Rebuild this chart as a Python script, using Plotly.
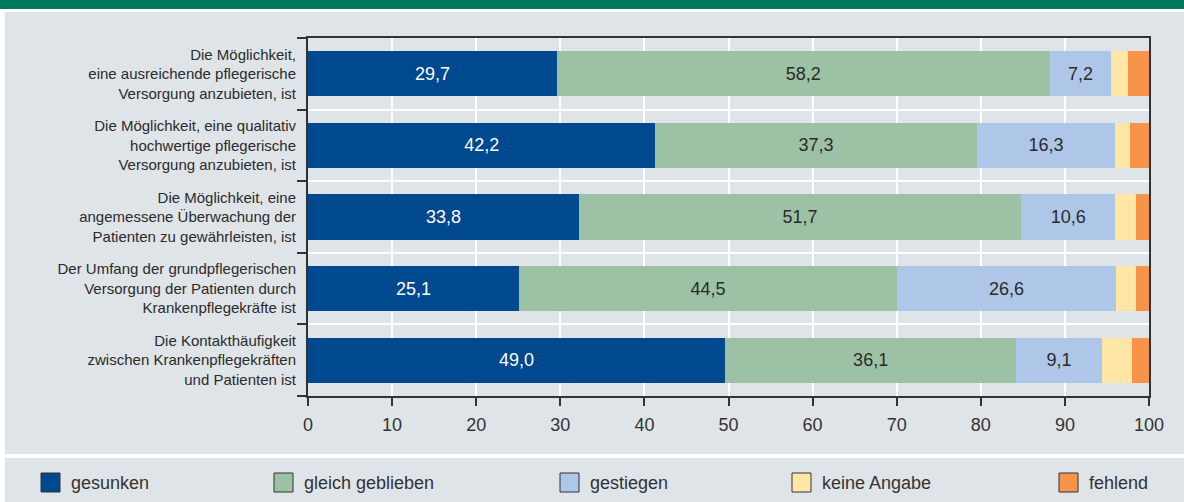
import plotly.graph_objects as go

categories = [
    "Die Möglichkeit,<br>eine ausreichende pflegerische<br>Versorgung anzubieten, ist",
    "Die Möglichkeit, eine qualitativ<br>hochwertige pflegerische<br>Versorgung anzubieten, ist",
    "Die Möglichkeit, eine<br>angemessene Überwachung der<br>Patienten zu gewährleisten, ist",
    "Der Umfang der grundpflegerischen<br>Versorgung der Patienten durch<br>Krankenpflegekräfte ist",
    "Die Kontakthäufigkeit<br>zwischen Krankenpflegekräften<br>und Patienten ist",
]
series_names = ["gesunken", "gleich geblieben", "gestiegen", "keine Angabe", "fehlend"]

# bar lengths (percent)
gesunken = [29.6, 41.3, 32.2, 25.1, 49.6]
gleich_geblieben = [58.6, 38.2, 52.6, 44.9, 34.6]
gestiegen = [7.3, 16.5, 11.2, 26.1, 10.2]
keine_angabe = [2.0, 1.7, 2.5, 2.4, 3.6]
fehlend = [2.5, 2.3, 1.5, 1.5, 2.0]

# printed value labels
labels_gesunken = ["29,7", "42,2", "33,8", "25,1", "49,0"]
labels_gleich = ["58,2", "37,3", "51,7", "44,5", "36,1"]
labels_gestiegen = ["7,2", "16,3", "10,6", "26,6", "9,1"]

x_ticks = [0, 10, 20, 30, 40, 50, 60, 70, 80, 90, 100]

colors = ["#00498f", "#9dc1a4", "#aec6e7", "#fee7a6", "#f7944a"]
text_colors = ["#ffffff", "#2b2b2b", "#2b2b2b", "#2b2b2b", "#2b2b2b"]
values = [gesunken, gleich_geblieben, gestiegen, keine_angabe, fehlend]
texts = [labels_gesunken, labels_gleich, labels_gestiegen, None, None]

FONT = "Liberation Sans, Arial, sans-serif"
W, H = 1184, 502
L, R, T, B = 308, 35, 38, 106
pw, ph = W - L - R, H - T - B

def px(x):
    return (x - L) / pw

def py(y):
    return (H - B - y) / ph

fig = go.Figure()
for name, vals, col, tcol, txt in zip(series_names, values, colors, text_colors, texts):
    fig.add_trace(go.Bar(
        y=categories, x=vals, name=name, orientation="h",
        marker=dict(color=col, line=dict(width=0)),
        text=txt, textposition="inside" if txt else "none",
        insidetextanchor="middle",
        textfont=dict(color=tcol, size=18, family=FONT),
        width=0.63, showlegend=False, hoverinfo="x+name",
    ))

# dummy trace for the boundary axis
fig.add_trace(go.Scatter(x=[None], y=[None], yaxis="y2", showlegend=False))

shapes = [
    dict(type="rect", xref="paper", yref="paper", x0=px(0), x1=px(W + 2), y0=py(-2), y1=py(9),
         fillcolor="#007a5e", line=dict(width=0), layer="below"),
    dict(type="rect", xref="paper", yref="paper", x0=px(5), x1=px(W + 2), y0=py(12), y1=py(454),
         fillcolor="#dfe4e8", line=dict(width=0), layer="below"),
    dict(type="rect", xref="paper", yref="paper", x0=px(5), x1=px(W + 2), y0=py(458), y1=py(H + 2),
         fillcolor="#dfe4e8", line=dict(width=0), layer="below"),
]
annotations = []
legend_x = [41, 274, 560, 792, 1059]
for lx, name, col in zip(legend_x, series_names, colors):
    shapes.append(dict(type="rect", xref="paper", yref="paper", x0=px(lx), x1=px(lx + 19),
                       y0=py(473), y1=py(492), fillcolor=col,
                       line=dict(color="#333333", width=1)))
    annotations.append(dict(xref="paper", yref="paper", x=px(lx + 28), y=py(482.5),
                            text=name, showarrow=False, xanchor="left", yanchor="middle",
                            font=dict(size=18, color="#333333", family=FONT)))

fig.update_layout(
    barmode="stack",
    width=W, height=H,
    margin=dict(l=L, r=R, t=T, b=B),
    paper_bgcolor="#ffffff",
    plot_bgcolor="#ebeef1",
    font=dict(family=FONT, color="#2b2b2b"),
    shapes=shapes,
    annotations=annotations,
    xaxis=dict(
        range=[0, 100], tickvals=x_ticks, showgrid=True, gridcolor="#ffffff", gridwidth=2,
        zeroline=False, showline=True, linecolor="#333333", linewidth=2, mirror=True,
        ticks="outside", ticklen=8, tickwidth=2, tickcolor="#333333",
        tickfont=dict(size=18, color="#333333"), ticklabelstandoff=3,
    ),
    yaxis=dict(
        type="category", categoryorder="array", categoryarray=categories,
        autorange="reversed", showgrid=False, zeroline=False,
        showline=True, linecolor="#333333", linewidth=2, mirror=True,
        ticks="outside", ticklen=7, tickcolor="rgba(0,0,0,0)",
        tickfont=dict(size=15, color="#2b2b2b"),
    ),
    yaxis2=dict(
        overlaying="y", range=[-0.5, 4.5], tickvals=[-0.5, 0.5, 1.5, 2.5, 3.5, 4.5],
        showticklabels=False, ticks="outside", ticklen=10, tickwidth=2, tickcolor="#333333",
        showgrid=True, gridcolor="#ffffff", gridwidth=2, zeroline=False, side="left",
        layer="below traces",
    ),
)

fig.write_html("out.html", config={"displayModeBar": False},
               post_script="document.body.style.margin='0';")
